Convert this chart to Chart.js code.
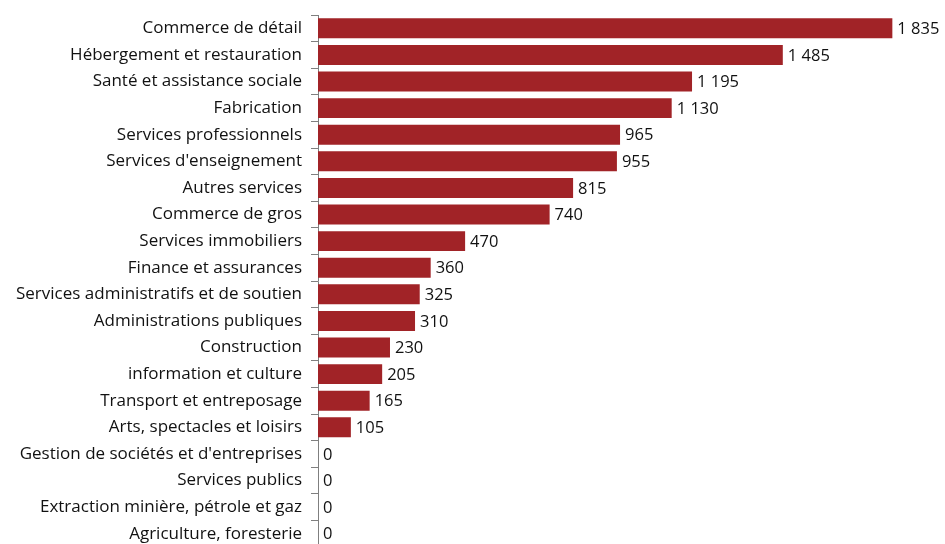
<!DOCTYPE html>
<html>
<head>
<meta charset="utf-8">
<script src="https://cdn.jsdelivr.net/npm/chart.js@4"></script>
<style>
  html, body { margin: 0; padding: 0; overflow: hidden; background: #fff; }
  #wrap { width: 945px; height: 548px; position: relative; }
</style>
</head>
<body>
<div id="wrap"><canvas id="chart"></canvas></div>
<script>
// categories and values, top to bottom
const sectors = [
  'Commerce de détail',
  'Hébergement et restauration',
  'Santé et assistance sociale',
  'Fabrication',
  'Services professionnels',
  "Services d'enseignement",
  'Autres services',
  'Commerce de gros',
  'Services immobiliers',
  'Finance et assurances',
  'Services administratifs et de soutien',
  'Administrations publiques',
  'Construction',
  'information et culture',
  'Transport et entreposage',
  'Arts, spectacles et loisirs',
  "Gestion de sociétés et d'entreprises",
  'Services publics',
  'Extraction minière, pétrole et gaz',
  'Agriculture, foresterie'
];
const workers = [1835, 1485, 1195, 1130, 965, 955, 815, 740, 470, 360, 325, 310, 230, 205, 165, 105, 0, 0, 0, 0];
const xMin = 0;
const xMax = 2000;

const FONT = '"Open Sans", sans-serif';

function fmt(n) {
  return String(n).replace(/\B(?=(\d{3})+(?!\d))/g, ' ');
}

// draw the value at the end of each bar
const valueLabels = {
  id: 'valueLabels',
  afterDatasetsDraw(chart) {
    const ctx = chart.ctx;
    const meta = chart.getDatasetMeta(0);
    ctx.save();
    ctx.font = '16.5px ' + FONT;
    ctx.fillStyle = '#111';
    ctx.textAlign = 'left';
    ctx.textBaseline = 'middle';
    meta.data.forEach((bar, i) => {
      ctx.fillText(fmt(workers[i]), bar.x + 5, bar.y + 1);
    });
    ctx.restore();
  }
};

new Chart(document.getElementById('chart'), {
  type: 'bar',
  data: {
    labels: sectors,
    datasets: [{
      data: workers,
      backgroundColor: '#A12327',
      borderWidth: 0,
      barPercentage: 0.75,
      categoryPercentage: 1
    }]
  },
  options: {
    indexAxis: 'y',
    responsive: true,
    maintainAspectRatio: false,
    animation: false,
    layout: { padding: { top: 15, right: 1, bottom: 1, left: 0 } },
    plugins: { legend: { display: false }, tooltip: { enabled: false } },
    scales: {
      x: { display: false, min: xMin, max: xMax },
      y: {
        afterFit(scale) {
          scale.width = 318;
          scale.paddingTop = 0;
          scale.paddingBottom = 0;
        },
        border: { display: true, color: '#7f7f7f', width: 1 },
        grid: {
          display: true,
          offset: true,
          drawOnChartArea: false,
          drawTicks: true,
          tickLength: 7,
          color: '#7f7f7f'
        },
        ticks: {
          color: '#111',
          padding: 9,
          autoSkip: false,
          font: { family: FONT, size: 17 }
        }
      }
    }
  },
  plugins: [valueLabels]
});
</script>
</body>
</html>
